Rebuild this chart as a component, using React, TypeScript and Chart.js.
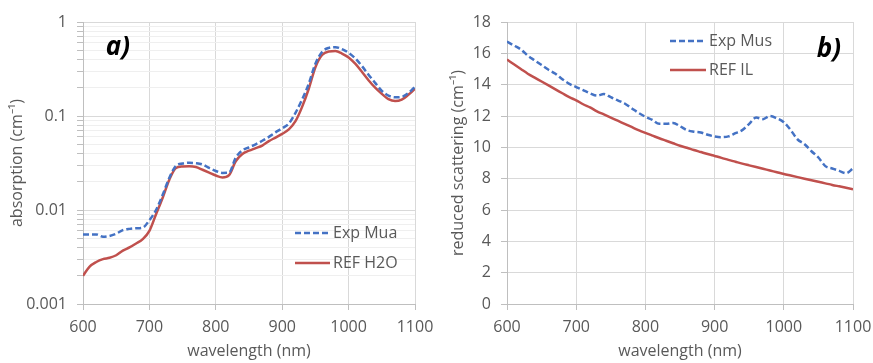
import React, { useEffect, useRef } from "react";
import { Chart, registerables } from "chart.js";
Chart.register(...registerables);

const WAVELENGTH = [600, 610, 620, 630, 640, 650, 660, 670, 680, 690, 700, 710, 720, 730, 740, 750, 760, 770, 780, 790, 800, 810, 820, 830, 840, 850, 860, 870, 880, 890, 900, 910, 920, 930, 940, 950, 960, 970, 980, 990, 1000, 1010, 1020, 1030, 1040, 1050, 1060, 1070, 1080, 1090, 1100];

const EXP_MUA = [0.0055, 0.0055, 0.0055, 0.0052, 0.0053, 0.0056, 0.0061, 0.0063, 0.0064, 0.0065, 0.0078, 0.0100, 0.0145, 0.0220, 0.0295, 0.0312, 0.0318, 0.0315, 0.0305, 0.0280, 0.0260, 0.0248, 0.0250, 0.0360, 0.0430, 0.0465, 0.0500, 0.0545, 0.0600, 0.0670, 0.0740, 0.0830, 0.108, 0.150, 0.220, 0.360, 0.480, 0.530, 0.540, 0.515, 0.470, 0.410, 0.340, 0.275, 0.225, 0.185, 0.165, 0.158, 0.160, 0.175, 0.205];

const REF_H2O = [0.0020, 0.0025, 0.0028, 0.0030, 0.0031, 0.0033, 0.0037, 0.0040, 0.0044, 0.0049, 0.0060, 0.0090, 0.0135, 0.0210, 0.0280, 0.0290, 0.0292, 0.0287, 0.0268, 0.0250, 0.0233, 0.0222, 0.0235, 0.0330, 0.0395, 0.0428, 0.0455, 0.0485, 0.0540, 0.0590, 0.0645, 0.0720, 0.0880, 0.125, 0.195, 0.330, 0.445, 0.485, 0.490, 0.462, 0.420, 0.360, 0.295, 0.240, 0.200, 0.172, 0.151, 0.144, 0.149, 0.168, 0.195];

const EXP_MUS = [16.75, 16.5, 16.25, 15.85, 15.55, 15.25, 14.95, 14.7, 14.35, 14.05, 13.85, 13.65, 13.45, 13.3, 13.4, 13.2, 13.0, 12.8, 12.5, 12.2, 11.95, 11.75, 11.5, 11.5, 11.55, 11.35, 11.1, 11.0, 10.95, 10.8, 10.7, 10.65, 10.7, 10.9, 11.1, 11.5, 11.9, 11.8, 12.0, 11.85, 11.6, 11.1, 10.5, 10.2, 9.75, 9.35, 8.8, 8.65, 8.5, 8.35, 8.65];

const REF_IL = [15.6, 15.3, 15.0, 14.7, 14.45, 14.2, 13.95, 13.7, 13.45, 13.2, 13.0, 12.75, 12.55, 12.3, 12.1, 11.9, 11.7, 11.5, 11.3, 11.1, 10.92, 10.75, 10.58, 10.42, 10.26, 10.1, 9.97, 9.83, 9.7, 9.57, 9.45, 9.33, 9.2, 9.08, 8.96, 8.85, 8.74, 8.63, 8.52, 8.41, 8.3, 8.2, 8.1, 8.0, 7.9, 7.8, 7.7, 7.6, 7.51, 7.42, 7.33];

const X_MIN = 600;
const X_MAX = 1100;
const X_STEP = 100;
const ABS_DECADES = [0.001, 0.01, 0.1, 1];
const SCAT_MIN = 0;
const SCAT_MAX = 18;
const SCAT_STEP = 2;

const FONT = "'Open Sans', sans-serif";
const TEXT = "#595959";
const GRID = "#d9d9d9";
const GRID_MINOR = "#efefef";
const AXIS = "#bfbfbf";
const BLUE = "#4472C4";
const RED = "#C0504D";
const DASH = [6, 3];

function pts(ys: number[]) {
  return WAVELENGTH.map((x, i) => ({ x, y: ys[i] }));
}

function absTickValues(): number[] {
  const out: number[] = [];
  for (let d = 0; d < ABS_DECADES.length - 1; d++) {
    for (let k = 1; k <= 9; k++) out.push(Number((ABS_DECADES[d] * k).toPrecision(6)));
  }
  out.push(ABS_DECADES[ABS_DECADES.length - 1]);
  return out;
}

type LegendItem = { text: string; color: string; dash: number[]; x0: number; x1: number; y: number };

function overlay(items: LegendItem[], label: { text: string; x: number; y: number }) {
  return {
    id: "overlay",
    afterDraw(chart: any) {
      const ctx = chart.ctx as CanvasRenderingContext2D;
      ctx.save();
      items.forEach((it) => {
        ctx.strokeStyle = it.color;
        ctx.lineWidth = 2.5;
        ctx.setLineDash(it.dash);
        ctx.beginPath();
        ctx.moveTo(it.x0, it.y);
        ctx.lineTo(it.x1, it.y);
        ctx.stroke();
        ctx.setLineDash([]);
        ctx.fillStyle = TEXT;
        ctx.font = `16px ${FONT}`;
        ctx.textBaseline = "middle";
        ctx.textAlign = "left";
        ctx.fillText(it.text, it.x1 + 3, it.y);
      });
      ctx.font = `italic bold 26px ${FONT}`;
      ctx.fillStyle = "#000";
      ctx.textAlign = "center";
      ctx.textBaseline = "middle";
      ctx.fillText(label.text, label.x, label.y);
      ctx.restore();
    },
  };
}

function xScale() {
  return {
    type: "linear",
    min: X_MIN,
    max: X_MAX,
    afterFit: (s: any) => {
      s.height = 59;
      s.paddingLeft = 0;
      s.paddingRight = 0;
    },
    ticks: {
      stepSize: X_STEP,
      padding: 8,
      color: TEXT,
      font: { family: FONT, size: 16 },
      callback: (v: number) => String(v),
    },
    grid: { color: GRID, tickLength: 6, tickColor: AXIS },
    border: { color: AXIS },
    title: { display: true, text: "wavelength (nm)", color: TEXT, font: { family: FONT, size: 16 }, padding: { top: 0, bottom: 2 } },
  };
}

function lineDs(label: string, ys: number[], color: string, dashed: boolean) {
  return {
    label,
    data: pts(ys),
    borderColor: color,
    backgroundColor: color,
    borderWidth: 2.5,
    borderDash: dashed ? DASH : [],
    pointRadius: 0,
    cubicInterpolationMode: "monotone",
    fill: false,
  };
}

function ChartCanvas({ config, left, width }: { config: any; left: number; width: number }) {
  const ref = useRef<HTMLCanvasElement>(null);
  useEffect(() => {
    const chart = new Chart(ref.current as HTMLCanvasElement, config);
    return () => chart.destroy();
  }, []);
  return (
    <canvas
      ref={ref}
      width={width}
      height={363}
      style={{ position: "absolute", left, top: 0, width, height: 363 }}
    />
  );
}

export default function App() {
  const absTicks = absTickValues();
  const configA = {
    type: "line",
    data: {
      datasets: [lineDs("Exp Mua", EXP_MUA, BLUE, true), lineDs("REF H2O", REF_H2O, RED, false)],
    },
    options: {
      animation: false,
      responsive: false,
      maintainAspectRatio: false,
      layout: { padding: { left: 0, right: 21, top: 22, bottom: 0 } },
      plugins: { legend: { display: false }, tooltip: { enabled: false } },
      scales: {
        x: xScale(),
        y: {
          type: "logarithmic",
          min: ABS_DECADES[0],
          max: ABS_DECADES[ABS_DECADES.length - 1],
          afterBuildTicks: (s: any) => {
            s.ticks = absTicks.map((v) => ({ value: v }));
          },
          afterFit: (s: any) => {
            s.width = 83;
            s.paddingTop = 0;
            s.paddingBottom = 0;
          },
          ticks: {
            autoSkip: false,
            padding: 10,
            color: TEXT,
            font: { family: FONT, size: 16 },
            callback: (v: number) => (ABS_DECADES.includes(v) ? String(v) : ""),
          },
          grid: {
            color: (c: any) => (c.tick && ABS_DECADES.includes(c.tick.value) ? GRID : GRID_MINOR),
            tickLength: 6,
            tickColor: AXIS,
          },
          border: { color: AXIS },
          title: { display: true, text: "absorption (cm⁻¹)", color: TEXT, font: { family: FONT, size: 16 }, padding: { top: 8, bottom: 0 } },
        },
      },
    },
    plugins: [
      overlay(
        [
          { text: "Exp Mua", color: BLUE, dash: DASH, x0: 295, x1: 330, y: 233 },
          { text: "REF H2O", color: RED, dash: [], x0: 295, x1: 330, y: 263 },
        ],
        { text: "a)", x: 118, y: 48 }
      ),
    ],
  };

  const configB = {
    type: "line",
    data: {
      datasets: [lineDs("Exp Mus", EXP_MUS, BLUE, true), lineDs("REF IL", REF_IL, RED, false)],
    },
    options: {
      animation: false,
      responsive: false,
      maintainAspectRatio: false,
      layout: { padding: { left: 0, right: 20, top: 22, bottom: 0 } },
      plugins: { legend: { display: false }, tooltip: { enabled: false } },
      scales: {
        x: xScale(),
        y: {
          type: "linear",
          min: SCAT_MIN,
          max: SCAT_MAX,
          afterFit: (s: any) => {
            s.width = 71;
            s.paddingTop = 0;
            s.paddingBottom = 0;
          },
          ticks: { stepSize: SCAT_STEP, padding: 10, color: TEXT, font: { family: FONT, size: 16 } },
          grid: { color: GRID, tickLength: 6, tickColor: AXIS },
          border: { color: AXIS },
          title: { display: true, text: "reduced scattering (cm⁻¹)", color: TEXT, font: { family: FONT, size: 16 }, padding: { top: 13, bottom: 0 } },
        },
      },
    },
    plugins: [
      overlay(
        [
          { text: "Exp Mus", color: BLUE, dash: DASH, x0: 234, x1: 270, y: 41 },
          { text: "REF IL", color: RED, dash: [], x0: 234, x1: 270, y: 70 },
        ],
        { text: "b)", x: 393, y: 50 }
      ),
    ],
  };

  return (
    <div style={{ position: "absolute", left: 0, top: 0, width: 873, height: 363, background: "#fff" }}>
      <ChartCanvas config={configA} left={0} width={436} />
      <ChartCanvas config={configB} left={436} width={437} />
    </div>
  );
}
